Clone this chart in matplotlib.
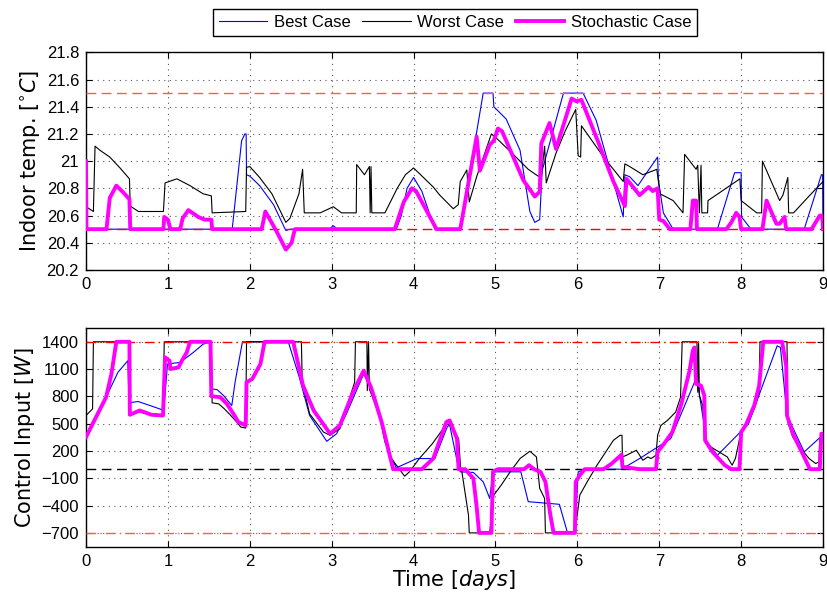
import matplotlib
matplotlib.use("Agg")
import matplotlib.pyplot as plt

# ---- indoor temperature (top panel) ----
best_t_x = [0, 1.785, 1.90, 1.94, 1.955, 1.96, 2.0, 2.12, 2.29, 2.44, 2.49, 2.97, 3.02, 3.07,
            3.79, 3.85, 3.92, 4.0, 4.1, 4.26, 4.57, 4.73, 4.85, 4.97, 4.98, 5.13, 5.30, 5.42,
            5.48, 5.54, 5.57, 5.83, 6.07, 6.23, 6.56, 6.58, 6.64, 6.74, 6.87, 6.98, 6.99,
            7.05, 7.17, 7.71, 7.92, 8.0, 8.005, 8.12, 8.77, 8.98, 8.995, 9.0]
best_t_y = [20.5, 20.5, 21.15, 21.2, 21.2, 20.90, 20.89, 20.82, 20.68, 20.49, 20.5, 20.5, 20.525, 20.5,
            20.5, 20.6, 20.8, 20.88, 20.78, 20.5, 20.5, 21.07, 21.5, 21.5, 21.40, 21.31, 21.08, 20.63,
            20.55, 20.57, 20.93, 21.5, 21.5, 21.30, 20.59, 20.90, 20.885, 20.82, 20.935, 21.03, 20.86,
            20.62, 20.5, 20.5, 20.915, 20.915, 20.59, 20.5, 20.5, 20.90, 20.90, 20.5]

worst_t_x = [0, 0.09, 0.11, 0.17, 0.29, 0.415, 0.53, 0.54, 0.64, 0.945, 0.965, 1.11, 1.27, 1.43,
             1.53, 1.54, 1.95, 1.96, 2.0, 2.12, 2.27, 2.44, 2.49, 2.60, 2.645, 2.665, 2.86, 3.02,
             3.12, 3.30, 3.305, 3.40, 3.46, 3.47, 3.48, 3.49, 3.65, 3.80, 3.90, 4.0, 4.24, 4.32,
             4.485, 4.545, 4.57, 4.65, 4.68, 4.77, 4.91, 4.95, 5.01, 5.2, 5.4, 5.52, 5.56, 5.60,
             5.62, 5.74, 5.85, 5.98, 6.01, 6.04, 6.05, 6.32, 6.56, 6.58, 6.64, 6.80, 6.97, 7.01,
             7.17, 7.29, 7.31, 7.45, 7.47, 7.49, 7.51, 7.52, 7.59, 7.595, 7.985, 8.0, 8.19, 8.25,
             8.26, 8.47, 8.51, 8.57, 8.58, 8.64, 8.84, 9.0]
worst_t_y = [20.665, 20.63, 21.11, 21.08, 21.03, 20.95, 20.87, 20.67, 20.63, 20.63, 20.84, 20.87, 20.82, 20.76,
             20.745, 20.62, 20.63, 20.955, 20.96, 20.88, 20.76, 20.55, 20.58, 20.76, 20.94, 20.62, 20.62, 20.665,
             20.62, 20.62, 20.975, 20.90, 20.96, 20.62, 20.96, 20.62, 20.62, 20.80, 20.90, 20.95, 20.81, 20.75,
             20.65, 20.68, 20.85, 20.935, 20.70, 20.885, 21.13, 21.2, 21.17, 21.06, 20.94, 20.89, 20.89, 21.11,
             20.84, 21.06, 21.22, 21.38, 21.04, 21.03, 21.26, 21.03, 20.85, 20.98, 20.96, 20.90, 20.94, 20.76,
             20.71, 20.62, 21.05, 20.94, 20.97, 20.62, 20.97, 20.62, 20.62, 20.71, 20.87, 20.71, 20.62, 20.62,
             21.0, 20.71, 20.75, 20.88, 20.62, 20.62, 20.75, 20.85]

stoch_t_x = [0, 0.005, 0.25, 0.29, 0.37, 0.455, 0.53, 0.54, 0.945, 0.955, 1.0, 1.03, 1.15, 1.18,
             1.25, 1.37, 1.45, 1.53, 1.54, 2.145, 2.19, 2.33, 2.44, 2.51, 2.55, 3.77, 3.88, 3.98,
             4.03, 4.28, 4.57, 4.77, 4.81, 4.93, 4.98, 5.03, 5.08, 5.34, 5.48, 5.54, 5.56, 5.66,
             5.74, 5.93, 5.99, 6.05, 6.255, 6.44, 6.58, 6.60, 6.76, 6.87, 6.92, 6.98, 7.0, 7.05,
             7.13, 7.38, 7.41, 7.45, 7.46, 7.82, 7.88, 7.94, 7.98, 8.0, 8.26, 8.31, 8.43, 8.47,
             8.53, 8.55, 8.86, 8.96, 8.99, 9.0]
stoch_t_y = [21.0, 20.5, 20.5, 20.73, 20.82, 20.77, 20.72, 20.5, 20.5, 20.59, 20.57, 20.5, 20.5, 20.58,
             20.64, 20.59, 20.57, 20.57, 20.5, 20.5, 20.63, 20.48, 20.35, 20.40, 20.5, 20.5, 20.70, 20.80,
             20.78, 20.5, 20.5, 21.18, 20.93, 21.12, 21.15, 21.24, 21.22, 20.86, 20.74, 20.775, 21.13, 21.28,
             21.09, 21.46, 21.44, 21.45, 21.14, 20.85, 20.67, 20.87, 20.75, 20.81, 20.78, 20.80, 20.57, 20.56,
             20.5, 20.5, 20.71, 20.71, 20.5, 20.5, 20.55, 20.62, 20.59, 20.5, 20.5, 20.71, 20.54, 20.54,
             20.59, 20.5, 20.5, 20.60, 20.60, 20.5]

# ---- control input (bottom panel) ----
best_u_x = [0, 0.245, 0.39, 0.51, 0.525, 0.635, 0.78, 0.92, 0.95, 0.995, 1.15, 1.31, 1.43, 1.52,
            1.525, 1.60, 1.68, 1.78, 1.82, 1.91, 2.47, 2.61, 2.73, 2.94, 3.06, 3.18, 3.39, 3.45,
            3.57, 3.69, 3.79, 4.04, 4.26, 4.41, 4.44, 4.55, 4.57, 4.73, 4.85, 4.93, 4.97, 5.31,
            5.40, 5.78, 5.88, 5.97, 6.01, 6.1, 6.54, 6.76, 7.14, 7.43, 7.47, 7.58, 7.71, 8.09,
            8.44, 8.48, 8.56, 8.77, 8.97, 9.0]
best_u_y = [330, 791, 1065, 1192, 729, 744, 700, 656, 656, 1156, 1174, 1283, 1374, 1400,
            882, 875, 809, 700, 955, 1400, 1400, 992, 591, 306, 390, 609, 1046, 955,
            627, 190, 15, 117, 117, 463, 489, 7, -29, -36, -139, -321, -29, -29,
            -357, -386, -700, -700, -29, 0, 0, 117, 335, 955, 940, 299, 153, 499,
            1356, 1338, 591, 190, 354, 380]

worst_u_x = [0, 0.08, 0.09, 0.52, 0.53, 0.635, 0.78, 0.94, 0.955, 1.53, 1.54, 1.62, 1.68, 1.76,
             1.84, 1.89, 1.95, 1.96, 2.63, 2.64, 2.73, 2.90, 2.98, 3.10, 3.28, 3.29, 3.43, 3.435,
             3.45, 3.46, 3.59, 3.65, 3.73, 3.79, 3.89, 3.95, 4.07, 4.23, 4.39, 4.44, 4.55, 4.575,
             4.59, 4.67, 4.68, 4.93, 4.98, 5.07, 5.18, 5.30, 5.42, 5.50, 5.54, 5.60, 5.61, 5.97,
             6.03, 6.12, 6.24, 6.36, 6.44, 6.52, 6.545, 6.55, 6.60, 6.72, 6.80, 6.86, 6.90, 6.96,
             6.98, 7.02, 7.10, 7.20, 7.26, 7.28, 7.46, 7.47, 7.48, 7.49, 7.53, 7.57, 7.63, 7.73,
             7.83, 7.89, 7.93, 7.99, 8.06, 8.16, 8.22, 8.23, 8.56, 8.57, 8.63, 8.73, 8.83, 8.91,
             8.95, 8.96, 9.0]
worst_u_y = [590, 663, 1400, 1400, 609, 634, 598, 590, 1400, 1400, 729, 718, 671, 598,
             518, 463, 452, 1400, 1400, 960, 609, 408, 372, 445, 955, 1400, 1400, 864,
             1400, 882, 572, 299, 117, 44, -77, -29, 117, 281, 481, 500, 335, 0,
             -29, -503, -700, -700, -284, -175, -29, 117, 197, 135, -211, -321, -700, -700,
             -284, -139, 44, 208, 317, 372, 372, 135, 153, 208, 98, 135, 117, 153,
             372, 481, 536, 627, 791, 1400, 1400, 846, 1400, 809, 700, 299, 244, 190,
             135, 44, 117, 372, 499, 664, 846, 1400, 1400, 518, 354, 226, 117, 62,
             80, 335, 340]

stoch_u_x = [0, 0.245, 0.31, 0.37, 0.53, 0.535, 0.655, 0.80, 0.94, 0.965, 1.02, 1.03, 1.13, 1.17,
             1.23, 1.27, 1.52, 1.53, 1.64, 1.72, 1.80, 1.86, 1.95, 1.96, 2.03, 2.13, 2.18, 2.53,
             2.65, 2.78, 2.98, 3.10, 3.26, 3.39, 3.48, 3.61, 3.75, 4.10, 4.24, 4.40, 4.44, 4.53,
             4.55, 4.63, 4.73, 4.77, 4.80, 4.95, 4.97, 5.03, 5.35, 5.41, 5.47, 5.55, 5.61, 5.67,
             5.71, 5.97, 5.98, 6.03, 6.09, 6.32, 6.42, 6.54, 6.55, 6.64, 6.76, 6.96, 6.98, 7.06,
             7.16, 7.27, 7.37, 7.41, 7.43, 7.45, 7.51, 7.55, 7.56, 7.65, 7.80, 7.88, 7.98, 8.0,
             8.06, 8.16, 8.22, 8.27, 8.50, 8.55, 8.56, 8.64, 8.74, 8.84, 8.96, 8.98, 9.0]
stoch_u_y = [354, 791, 1046, 1400, 1400, 598, 645, 598, 590, 1229, 1192, 1101, 1119, 1192,
             1283, 1400, 1400, 802, 791, 718, 609, 518, 481, 955, 992, 1156, 1400, 1400,
             919, 645, 390, 481, 846, 1083, 900, 518, 0, 0, 117, 518, 536, 335,
             0, 0, -102, -412, -700, -700, -29, 0, 0, 44, 0, -29, -139, -503,
             -700, -700, -139, -66, 0, 0, 62, 160, 26, 15, 0, 0, 190, 281,
             408, 718, 1083, 1302, 1338, 937, 919, 809, 317, 190, 44, 0, 0, 408,
             489, 700, 919, 1400, 1400, 1137, 591, 372, 190, 0, 0, 390, 390]

day_ticks = list(range(10))
temp_ticks = [20.2, 20.4, 20.6, 20.8, 21.0, 21.2, 21.4, 21.6, 21.8]
temp_labels = ["20.2", "20.4", "20.6", "20.8", "21", "21.2", "21.4", "21.6", "21.8"]
u_ticks = [-700, -400, -100, 200, 500, 800, 1100, 1400]

plt.rcParams["font.family"] = ["Liberation Sans", "DejaVu Sans"]
plt.rcParams["mathtext.fontset"] = "dejavusans"

fig = plt.figure(figsize=(8.28, 5.93), dpi=100)
ax1 = fig.add_axes([0.1039, 0.5447, 0.8901, 0.3671])
ax2 = fig.add_axes([0.1039, 0.0776, 0.8901, 0.3698])

grid_kw = dict(color="0.35", linestyle=(0, (1, 4)), linewidth=0.8)
light_red = "#ff5a5a"

# top panel
ax1.plot(best_t_x, best_t_y, color="b", lw=0.8, label="Best Case", zorder=3)
ax1.plot(worst_t_x, worst_t_y, color="k", lw=0.8, label="Worst Case", zorder=3)
ax1.axhline(21.5, color=light_red, ls=(0, (7, 4)), lw=1.0, zorder=4)
ax1.axhline(20.5, color="r", ls=(0, (7, 4)), lw=1.0, zorder=4)
ax1.plot(stoch_t_x, stoch_t_y, color="#ff00ff", lw=2.8, label="Stochastic Case", zorder=5)
ax1.set_xlim(0, 9)
ax1.set_ylim(20.2, 21.8)
ax1.set_xticks(day_ticks)
ax1.set_yticks(temp_ticks)
ax1.set_yticklabels(temp_labels)
ax1.set_ylabel(r"Indoor temp. $[^{\circ}C]$", family="DejaVu Sans", fontsize=15, labelpad=3)

# bottom panel
ax2.plot(best_u_x, best_u_y, color="b", lw=0.8, zorder=3)
ax2.plot(worst_u_x, worst_u_y, color="k", lw=0.8, zorder=3)
ax2.axhline(1400, color="r", ls=(0, (7, 3, 1, 3)), lw=1.0, zorder=4)
ax2.axhline(0, color="k", ls=(0, (7, 4)), lw=1.0, zorder=4)
ax2.axhline(-700, color=light_red, ls=(0, (7, 3, 1, 3)), lw=1.0, zorder=4)
ax2.plot(stoch_u_x, stoch_u_y, color="#ff00ff", lw=2.8, zorder=5)
ax2.set_xlim(0, 9)
ax2.set_ylim(-855, 1555)
ax2.set_xticks(day_ticks)
ax2.set_yticks(u_ticks)
ax2.set_yticklabels([str(v).replace("-", "\u2212") for v in u_ticks])
ax2.set_ylabel(r"Control Input $[W]$", family="DejaVu Sans", fontsize=15, labelpad=3)
ax2.set_xlabel(r"Time $[days]$", family="DejaVu Sans", fontsize=15, labelpad=-1)

for ax in (ax1, ax2):
    ax.grid(True, **grid_kw)
    ax.set_axisbelow(True)
    ax.tick_params(direction="in", length=4, width=0.8, top=True, right=True,
                   labelsize=12, pad=5)
    for sp in ax.spines.values():
        sp.set_linewidth(1.0)

handles, labels = ax1.get_legend_handles_labels()
fig.legend(handles, labels, loc="center", bbox_to_anchor=(0.5495, 0.962), ncol=3,
           fontsize=12, frameon=True, fancybox=False, edgecolor="k", framealpha=1,
           handlelength=2.9, handletextpad=0.4, columnspacing=0.7, borderpad=0.35)

fig.savefig("out.png", dpi=100)
